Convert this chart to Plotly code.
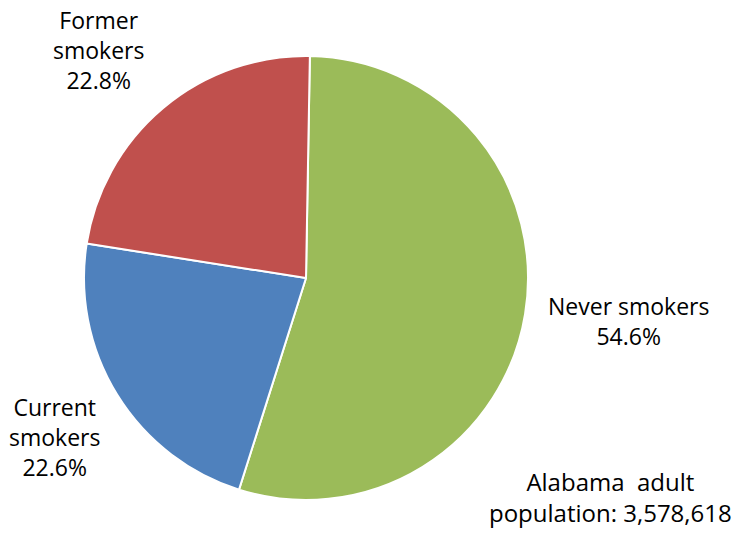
import plotly.graph_objects as go

# Smoking status of Alabama adults (share of population, %)
categories = ["Never smokers", "Current smokers", "Former smokers"]
shares = [54.6, 22.6, 22.8]
colors = ["#9BBB59", "#4F81BD", "#C0504D"]
population_note = "Alabama  adult<br>population: 3,578,618"

W, H = 746, 533
cx, cy, r = 306, 278, 222

fig = go.Figure(go.Pie(
    labels=categories,
    values=shares,
    sort=False,
    direction="clockwise",
    rotation=1,
    marker=dict(colors=colors, line=dict(color="white", width=2)),
    textinfo="none",
    hoverinfo="label+percent",
    showlegend=False,
    domain=dict(x=[(cx - r) / W, (cx + r) / W], y=[1 - (cy + r) / H, 1 - (cy - r) / H]),
))

font = dict(family="Open Sans, Liberation Sans, sans-serif", size=23, color="#000000")

# label text per slice: name split over lines, then value
label_text = {
    "Never smokers": "Never smokers",
    "Current smokers": "Current<br>smokers",
    "Former smokers": "Former<br>smokers",
}
label_pos = {
    "Never smokers": (628, 321),
    "Current smokers": (55, 437),
    "Former smokers": (98, 50),
}
for name, val in zip(categories, shares):
    x, y = label_pos[name]
    fig.add_annotation(
        x=x / W, y=1 - y / H, xref="paper", yref="paper",
        text=f"{label_text[name]}<br>{val:.1f}%",
        showarrow=False, font=font, align="center",
        xanchor="center", yanchor="middle",
    )

fig.add_annotation(
    x=610 / W, y=1 - 497 / H, xref="paper", yref="paper",
    text=population_note, showarrow=False, font=dict(font, size=24),
    align="center", xanchor="center", yanchor="middle",
)

fig.update_layout(
    width=W, height=H,
    margin=dict(l=0, r=0, t=0, b=0),
    paper_bgcolor="white", plot_bgcolor="white",
)

fig.write_html("out.html")
